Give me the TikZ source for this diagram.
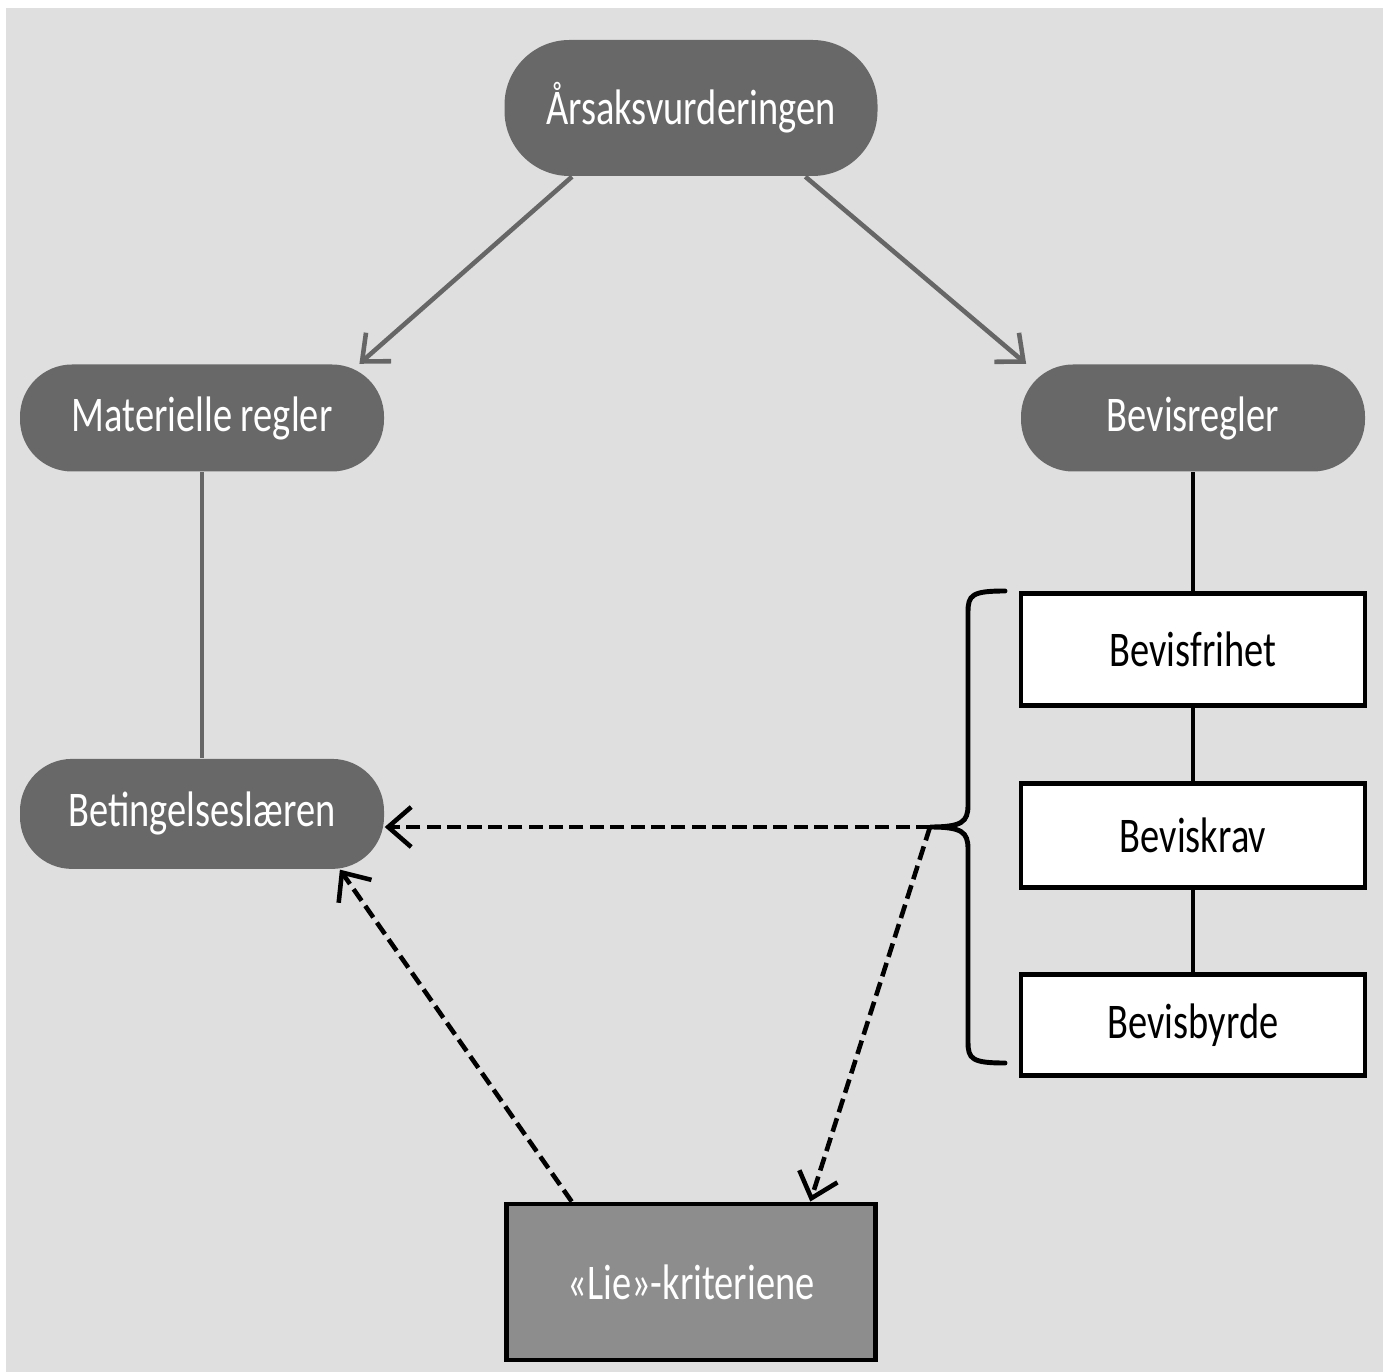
\documentclass[tikz,border=0pt]{standalone}
\usepackage{fontspec}
\setmainfont{Carlito}[FakeStretch=0.77]
\usepackage{xcolor}
\usepackage{tikz}
\usetikzlibrary{arrows.meta,positioning}
\definecolor{bggray}{HTML}{DFDFDF}
\definecolor{nodegray}{HTML}{686868}
\definecolor{liegray}{HTML}{8D8D8D}
\definecolor{linegray}{HTML}{666666}

\begin{document}
\begin{tikzpicture}[
    node distance=1cm and 1cm,
    pill/.style={rounded corners=0.52cm, fill=nodegray, text=white, align=center, minimum height=1.07cm, inner sep=3pt, font=\fontsize{14.2}{17}\selectfont},
    box/.style={draw, line width=1.4pt, fill=white, align=center, minimum width=3.44cm, minimum height=1.05cm, inner sep=3pt, font=\fontsize{14.2}{17}\selectfont},
    arrow/.style={-{Straight Barb[length=2.2mm, width=3.8mm]}, line width=1.3pt, draw=linegray},
    link/.style={line width=1.2pt},
    dasharrow/.style={-{Straight Barb[length=2.3mm, width=4mm]}, line width=1.3pt, dash pattern=on 4pt off 1.8pt}
]
\useasboundingbox (0,0) rectangle (13.83,-13.72);
\fill[bggray] (0.06,-0.08) rectangle (13.83,-13.72);

\node[pill, rounded corners=0.65cm, minimum width=3.73cm, minimum height=1.36cm] (cause) at (6.91,-1.08) {Årsaksvurderingen};
\node[pill, minimum width=3.64cm] (material) at (2.02,-4.18) {Materielle regler};
\node[pill, minimum width=3.44cm] (evidence) at (11.93,-4.18) {Bevisregler};
\node[pill, minimum width=3.64cm, minimum height=1.10cm, below=2.86cm of material] (condition) {Betingelseslæren};
\node[box, minimum height=1.12cm, below=1.19cm of evidence] (freedom) {Bevisfrihet};
\node[box, minimum height=1.04cm, below=0.73cm of freedom] (demand) {Beviskrav};
\node[box, minimum height=1.01cm, below=0.82cm of demand] (burden) {Bevisbyrde};
\node[box, fill=liegray, text=white, minimum width=3.69cm, minimum height=1.56cm] (lie) at (6.91,-12.82) {«Lie»-kriteriene};

% brace round the three evidence boxes
\coordinate (tip) at (9.30,-8.27);
\draw[line width=1.4pt, line cap=round] (10.05,-5.91) .. controls (9.72,-5.91) and (9.68,-5.95) .. (9.68,-6.12)
    -- (9.68,-8.05) .. controls (9.68,-8.22) and (9.62,-8.27) .. (tip)
    .. controls (9.62,-8.27) and (9.68,-8.32) .. (9.68,-8.49)
    -- (9.68,-10.42) .. controls (9.68,-10.59) and (9.72,-10.63) .. (10.05,-10.63);

\draw[arrow] (cause.210) -- (material.19);
\draw[arrow] (cause.329) -- (evidence.162);
\draw[link, draw=linegray] (material) -- (condition);
\draw[link] (evidence) -- (freedom);
\draw[link] (freedom) -- (demand);
\draw[link] (demand) -- (burden);
\draw[dasharrow] (tip) -- (tip -| condition.east);
\draw[dasharrow] (tip) -- (lie.34.4);
\draw[dasharrow] (lie.146.1) -- (condition.-22);
\end{tikzpicture}
\end{document}
